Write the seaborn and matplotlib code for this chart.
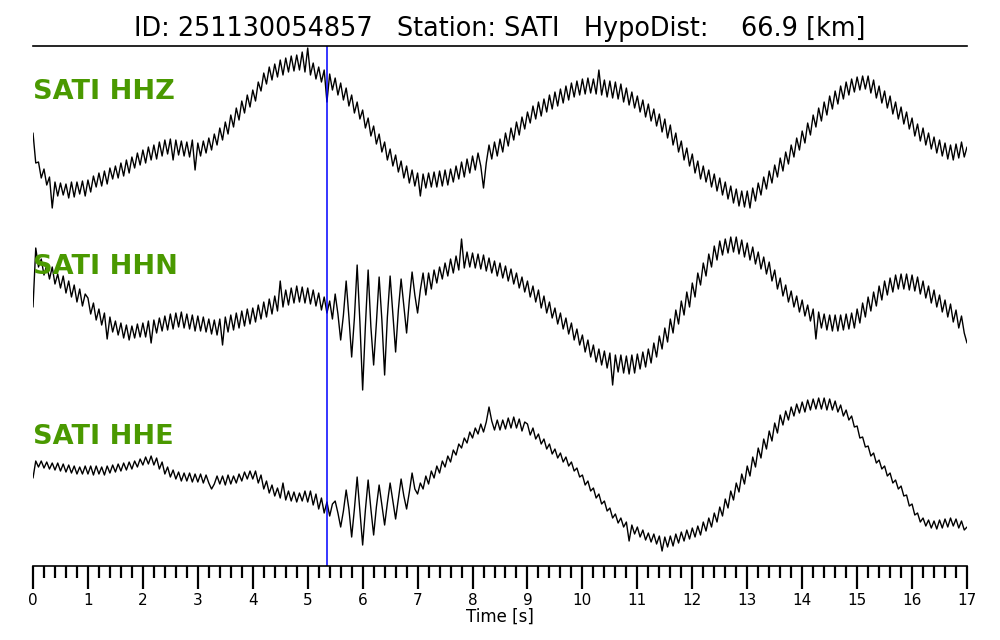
import numpy as np
import pandas as pd
import seaborn as sns
import matplotlib
matplotlib.use("Agg")
import matplotlib.pyplot as plt
from matplotlib.ticker import MultipleLocator

# event / station info
event_id = "251130054857"
station = "SATI"
hypo_dist = 66.9
channels = ["HHZ", "HHN", "HHE"]
dt = 0.05          # sample spacing [s]
p_pick = 5.35      # pick time [s]

# amplitudes (arbitrary counts), one row = 1 s
hhz = [
    -3, -33, -32, -48, -39, -55, -47, -78, -52, -66, -53, -65, -54, -68, -52, -67, -52, -64, -51, -66,
    -50, -62, -46, -57, -43, -56, -41, -54, -38, -49, -36, -48, -33, -46, -30, -43, -27, -38, -23, -35,
    -20, -33, -17, -30, -15, -29, -12, -26, -10, -24, -9, -30, -10, -25, -11, -26, -12, -27, -10, -40,
    -13, -26, -11, -23, -8, -20, -4, -15, 2, -10, 8, -4, 15, 3, 22, 10, 29, 17, 35, 23,
    40, 29, 48, 39, 57, 46, 63, 50, 66, 53, 70, 55, 72, 58, 74, 59, 75, 60, 78, 58,
    82, 55, 67, 51, 63, 48, 60, 28, 56, 40, 52, 35, 47, 30, 42, 24, 35, 17, 28, 11,
    20, 2, 12, -6, 4, -14, -4, -22, -12, -30, -19, -36, -25, -42, -31, -48, -36, -53, -40, -56,
    -43, -66, -44, -58, -43, -57, -42, -57, -41, -56, -40, -55, -39, -52, -36, -49, -32, -47, -29, -43,
    -26, -40, -23, -36, -58, -33, -15, -29, -12, -26, -9, -22, -3, -16, 2, -10, 8, -5, 13, 1,
    18, 7, 24, 11, 28, 14, 31, 18, 35, 21, 38, 24, 41, 27, 44, 30, 47, 33, 49, 35,
    51, 36, 52, 37, 51, 36, 60, 35, 50, 33, 49, 32, 48, 31, 46, 28, 42, 25, 38, 22,
    34, 18, 30, 13, 26, 9, 21, 4, 16, -2, 11, -8, 5, -15, -3, -22, -11, -30, -18, -36,
    -24, -43, -31, -49, -36, -52, -40, -57, -44, -61, -48, -65, -52, -69, -56, -73, -59, -76, -61, -77,
    -61, -78, -58, -71, -53, -65, -47, -59, -41, -53, -35, -47, -28, -41, -22, -34, -15, -27, -8, -20,
    -1, -13, 7, -5, 15, 3, 22, 9, 28, 15, 34, 21, 39, 26, 44, 31, 48, 35, 51, 38,
    53, 40, 54, 41, 54, 37, 50, 32, 44, 27, 39, 22, 34, 16, 28, 11, 23, 6, 18, 1,
    12, -6, 6, -11, 2, -15, -3, -19, -7, -23, -10, -26, -13, -29, -15, -30, -14, -28, -12, -27,
    -17,
]
hhn = [
    -2, 57, 38, 46, 30, 40, 26, 38, 21, 31, 17, 29, 12, 24, 8, 20, 3, 16, -1, 11,
    7, -9, 2, -15, -4, -20, -8, -34, -12, -27, -16, -30, -18, -33, -20, -35, -21, -33, -19, -32,
    -18, -32, -16, -38, -15, -28, -13, -26, -11, -25, -9, -24, -8, -22, -7, -23, -9, -24, -10, -26,
    -11, -26, -12, -27, -14, -29, -15, -30, -14, -40, -12, -27, -10, -25, -8, -23, -6, -21, -4, -19,
    -3, -17, 0, -14, 3, -12, 6, -9, 9, -6, 24, -2, 15, 0, 17, 2, 19, 3, 18, 2,
    17, 1, 15, -1, 12, -5, 8, -8, 4, -14, 11, -9, -35, -10, 24, -12, -52, -13, 40, -17,
    -85, -21, 35, -22, -60, -18, 28, -15, -70, -12, 29, -9, -47, -5, 26, -1, -28, 5, 33, 10,
    -8, 15, 32, 10, 32, 16, 35, 22, 38, 26, 42, 29, 46, 32, 49, 35, 66, 37, 53, 38,
    52, 37, 51, 36, 50, 34, 47, 32, 44, 29, 42, 27, 39, 24, 36, 21, 32, 17, 28, 13,
    24, 8, 19, 3, 15, -3, 9, -8, 3, -13, -3, -19, -8, -24, -13, -29, -18, -35, -24, -40,
    -30, -47, -35, -52, -40, -57, -44, -60, -46, -63, -48, -80, -50, -67, -50, -68, -51, -69, -50, -68,
    -49, -64, -47, -62, -44, -58, -38, -52, -31, -44, -23, -37, -14, -28, -5, -19, 4, -10, 13, -2,
    22, 8, 32, 20, 42, 29, 51, 38, 59, 45, 64, 50, 66, 52, 68, 53, 68, 51, 65, 48,
    62, 45, 58, 41, 53, 36, 48, 31, 43, 24, 35, 16, 27, 9, 20, 3, 14, -2, 9, -7,
    5, -11, 0, -16, -4, -34, -7, -23, -9, -25, -10, -26, -10, -26, -10, -25, -9, -24, -8, -23,
    -4, -18, 2, -12, 8, -6, 13, -1, 19, 5, 24, 10, 27, 13, 30, 16, 31, 16, 31, 15,
    30, 14, 28, 11, 24, 7, 19, 2, 15, -2, 10, -7, 5, -12, 1, -17, -5, -23, -11, -28,
    -38,
]
hhe = [
    -3, 14, 8, 14, 7, 13, 6, 12, 5, 12, 4, 11, 3, 10, 2, 9, 1, 8, 1, 9,
    1, 9, 0, 9, 1, 8, 0, 9, 2, 10, 3, 11, 4, 12, 5, 13, 6, 14, 8, 16,
    10, 18, 11, 19, 10, 17, 6, 13, 1, 8, -2, 5, -4, 3, -6, 2, -6, 2, -7, 1,
    -7, 1, -8, 0, -8, -14, -9, -1, -9, -1, -10, 0, -9, -1, -8, 1, -6, 3, -4, 4,
    -4, 4, -8, 0, -14, -6, -18, -10, -21, -13, -23, -8, -25, -16, -26, -17, -27, -18, -26, -16,
    -27, -16, -30, -19, -34, -23, -38, -27, -41, -29, -26, -38, -52, -36, -15, -34, -62, -34, -2, -36,
    -70, -35, -5, -34, -60, -32, -10, -30, -50, -28, -8, -26, -44, -24, -4, -21, -34, -17, 2, -14,
    -19, -8, -14, -1, -9, 4, -3, 9, 2, 14, 8, 19, 13, 25, 20, 31, 27, 37, 32, 43,
    37, 47, 41, 51, 43, 53, 68, 54, 45, 55, 45, 55, 46, 57, 47, 58, 47, 56, 44, 53,
    51, 40, 47, 36, 41, 31, 36, 26, 31, 21, 26, 17, 22, 13, 18, 9, 13, 4, 7, -2,
    0, -10, -6, -16, -13, -23, -19, -29, -26, -36, -33, -43, -39, -48, -43, -52, -47, -66, -50, -59,
    -52, -62, -55, -65, -58, -67, -59, -69, -61, -76, -62, -72, -61, -71, -59, -68, -57, -66, -55, -64,
    -53, -62, -51, -60, -47, -56, -43, -52, -38, -47, -32, -41, -24, -33, -16, -25, -8, -17, 1, -9,
    9, -1, 18, 8, 27, 17, 36, 26, 44, 34, 52, 42, 60, 50, 64, 55, 68, 59, 71, 62,
    73, 63, 75, 65, 76, 66, 77, 66, 77, 65, 76, 65, 74, 63, 70, 59, 65, 55, 59, 48,
    49, 37, 38, 28, 29, 19, 22, 12, 15, 6, 9, -1, 2, -8, -5, -14, -11, -21, -20, -31,
    -29, -40, -38, -47, -43, -51, -45, -53, -46, -54, -45, -53, -44, -52, -43, -51, -44, -53, -46, -55,
    -52,
]

sns.set_style("white")
plt.rcParams['font.family'] = ['DejaVu Sans']
plt.rcParams['text.color'] = 'black'

fig = plt.figure(figsize=(10, 6.4), dpi=100)
ax = fig.add_axes([0.033, 0.1156, 0.934, 0.8125])

# stack the traces one above the other
offsets = [0, -175, -345]
frames = []
for ch, vals, off in zip(channels, [hhz, hhn, hhe], offsets):
    v = np.asarray(vals, dtype=float)
    frames.append(pd.DataFrame({"time": np.arange(len(v)) * dt,
                                "trace": v + off,
                                "channel": ch}))
df = pd.concat(frames, ignore_index=True)

sns.lineplot(data=df, x="time", y="trace", units="channel", estimator=None,
             sort=False, color="black", linewidth=1.0, ax=ax)

for ch, off in zip(channels, offsets):
    ax.text(0, off + 38, f"{station} {ch}", color="#4a9900", fontsize=19.5,
            fontweight="bold", ha="left", va="center")

ax.axvline(p_pick, color="#0000ff", lw=1.1)

ax.set_title(f"ID: {event_id}   Station: {station}   HypoDist:    {hypo_dist:.1f} [km]",
             fontsize=18.4, pad=7, color="black")

ax.set_xlim(0, 17)
ax.set_ylim(-436, 84)
ax.set_yticks([])
ax.set_ylabel("")
ax.xaxis.set_major_locator(MultipleLocator(1))
ax.xaxis.set_minor_locator(MultipleLocator(0.2))
ax.tick_params(axis="x", which="major", direction="out", length=16.5, width=1.6,
               labelsize=11, pad=3, bottom=True, colors="black")
ax.tick_params(axis="x", which="minor", direction="out", length=8.5, width=1.6,
               bottom=True, colors="black")
ax.set_xlabel("Time [s]", fontsize=12, labelpad=0, color="black")

for spine in ["left", "right"]:
    ax.spines[spine].set_visible(False)
for spine in ["top", "bottom"]:
    ax.spines[spine].set_linewidth(1.2)
    ax.spines[spine].set_color("black")

fig.savefig("out.png", dpi=100)
